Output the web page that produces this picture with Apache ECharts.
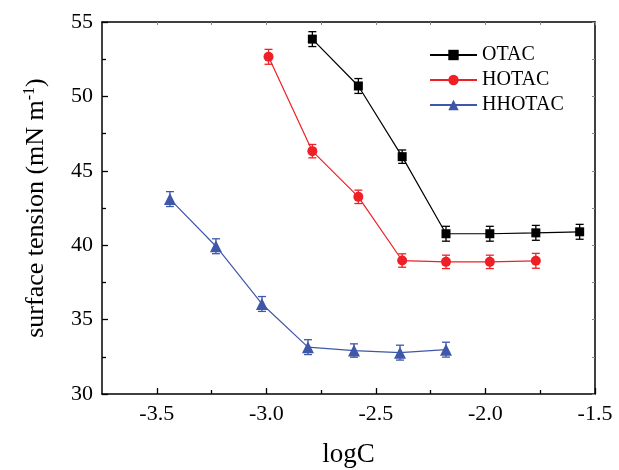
<!DOCTYPE html>
<html>
<head>
<meta charset="utf-8">
<script src="https://cdn.jsdelivr.net/npm/echarts@6/dist/echarts.min.js"></script>
<style>
  html, body { margin: 0; padding: 0; background: #fff; }
  #chart { width: 619px; height: 470px; }
</style>
</head>
<body>
<div id="chart"></div>
<script>
// values
const otacX = [-2.79, -2.58, -2.38, -2.18, -1.98, -1.77, -1.57];
const otacY = [53.85, 50.7, 45.95, 40.77, 40.77, 40.83, 40.9];
const otacErr = [0.5, 0.5, 0.45, 0.5, 0.5, 0.5, 0.5];

const hotacX = [-2.99, -2.79, -2.58, -2.38, -2.18, -1.98, -1.77];
const hotacY = [52.66, 46.32, 43.25, 38.97, 38.88, 38.88, 38.95];
const hotacErr = [0.5, 0.45, 0.45, 0.45, 0.45, 0.45, 0.5];

const hhotacX = [-3.44, -3.23, -3.02, -2.81, -2.60, -2.39, -2.18];
const hhotacY = [43.1, 39.93, 36.05, 33.15, 32.92, 32.78, 32.98];
const hhotacErr = [0.5, 0.5, 0.5, 0.5, 0.45, 0.5, 0.5];

const xMajorTicks = [-3.5, -3.0, -2.5, -2.0, -1.5];
const xMinorTicks = [-3.25, -2.75, -2.25, -1.75];

const FONT = "'Liberation Serif', 'Times New Roman', serif";
const BLACK = "#000000", RED = "#EE2026", BLUE = "#3F57A8";

var chart = echarts.init(document.getElementById("chart"), null, { renderer: "canvas" });

function pts(xs, ys) {
    return xs.map((x, i) => [x, ys[i]]);
}
function errPts(xs, ys, es) {
    return xs.map((x, i) => [x, ys[i] - es[i], ys[i] + es[i]]);
}

//误差棒
function errorBars(name, xs, ys, es, color) {
    return {
        name: name + " err",
        type: "custom",
        xAxisIndex: 0,
        yAxisIndex: 0,
        data: errPts(xs, ys, es),
        z: 3,
        silent: true,
        renderItem: function (params, api) {
            var lo = api.coord([api.value(0), api.value(1)]);
            var hi = api.coord([api.value(0), api.value(2)]);
            var w = 4;
            var style = { stroke: color, lineWidth: 1.3 };
            return {
                type: "group",
                children: [
                    { type: "line", shape: { x1: hi[0], y1: hi[1], x2: lo[0], y2: lo[1] }, style: style },
                    { type: "line", shape: { x1: hi[0] - w, y1: hi[1], x2: hi[0] + w, y2: hi[1] }, style: style },
                    { type: "line", shape: { x1: lo[0] - w, y1: lo[1], x2: lo[0] + w, y2: lo[1] }, style: style },
                ],
            };
        },
    };
}

function lineSeries(name, xs, ys, color, symbol, size) {
    return {
        name: name,
        type: "line",
        xAxisIndex: 0,
        yAxisIndex: 0,
        data: pts(xs, ys),
        symbol: symbol,
        symbolSize: size,
        showAllSymbol: true,
        z: 4,
        itemStyle: { color: color },
        lineStyle: { color: color, width: 1.2 },
    };
}

var axisLine = { show: true, lineStyle: { color: BLACK, width: 1.5 } };

var option = {
    backgroundColor: "#ffffff",
    animation: false,
    textStyle: { fontFamily: FONT },
    grid: { left: 102, right: 24, top: 22, bottom: 76, containLabel: false, outerBoundsMode: "none" },
    legend: {
        orient: "vertical",
        left: 424,
        top: 40,
        itemWidth: 47,
        itemHeight: 13,
        itemGap: 5,
        data: ["OTAC", "HOTAC", "HHOTAC"],
        textStyle: { fontFamily: FONT, fontSize: 20, color: BLACK },
    },
    xAxis: [
        {
            type: "value",
            position: "bottom",
            min: -3.75,
            max: -1.5,
            name: "logC",
            nameLocation: "middle",
            nameGap: 47,
            nameTextStyle: { fontFamily: FONT, fontSize: 27, color: BLACK },
            axisLine: axisLine,
            splitLine: { show: false },
            axisTick: { show: true, inside: true, length: 6, customValues: xMajorTicks, lineStyle: { color: BLACK, width: 1.3 } },
            axisLabel: {
                customValues: xMajorTicks,
                margin: 9,
                fontFamily: FONT,
                fontSize: 22,
                color: BLACK,
                formatter: v => v.toFixed(1),
            },
        },
        {
            type: "value",
            position: "bottom",
            min: -3.75,
            max: -1.5,
            axisLine: { show: false },
            splitLine: { show: false },
            axisLabel: { show: false },
            axisTick: { show: true, inside: true, length: 4, customValues: xMinorTicks, lineStyle: { color: BLACK, width: 1.3 } },
        },
        {
            type: "value",
            position: "top",
            min: -3.75,
            max: -1.5,
            axisLine: axisLine,
            splitLine: { show: false },
            axisLabel: { show: false },
            axisTick: { show: true, inside: true, length: 3, customValues: xMajorTicks.concat(xMinorTicks), lineStyle: { color: "#888", width: 1 } },
        },
    ],
    yAxis: [
        {
            type: "value",
            position: "left",
            min: 30,
            max: 55,
            interval: 5,
            name: "{a|surface tension (mN m}{s|-1}{a|)}",
            nameLocation: "middle",
            nameRotate: 90,
            nameGap: 52,
            nameTextStyle: {
                color: BLACK,
                rich: {
                    a: { fontFamily: FONT, fontSize: 26, color: BLACK },
                    s: { fontFamily: FONT, fontSize: 16, color: BLACK, verticalAlign: "bottom", padding: [0, 0, 12, 0] },
                },
            },
            axisLine: axisLine,
            splitLine: { show: false },
            axisTick: { show: true, inside: true, length: 6, lineStyle: { color: BLACK, width: 1.3 } },
            minorTick: { show: true, splitNumber: 2, length: 4, lineStyle: { color: BLACK, width: 1.3 } },
            axisLabel: { margin: 9, fontFamily: FONT, fontSize: 22, color: BLACK },
        },
        {
            type: "value",
            position: "right",
            min: 30,
            max: 55,
            interval: 5,
            axisLine: axisLine,
            splitLine: { show: false },
            axisLabel: { show: false },
            axisTick: { show: true, inside: true, length: 3, lineStyle: { color: "#888", width: 1 } },
            minorTick: { show: true, splitNumber: 2, length: 3, lineStyle: { color: "#888", width: 1 } },
        },
    ],
    series: [
        errorBars("OTAC", otacX, otacY, otacErr, BLACK),
        errorBars("HOTAC", hotacX, hotacY, hotacErr, RED),
        errorBars("HHOTAC", hhotacX, hhotacY, hhotacErr, BLUE),
        lineSeries("OTAC", otacX, otacY, BLACK, "rect", 9),
        lineSeries("HOTAC", hotacX, hotacY, RED, "circle", 10),
        lineSeries("HHOTAC", hhotacX, hhotacY, BLUE, "triangle", 12),
    ],
};

chart.setOption(option);
</script>
</body>
</html>
